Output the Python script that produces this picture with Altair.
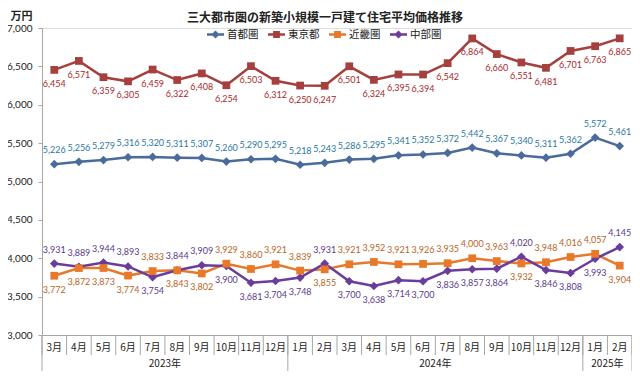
import altair as alt
import pandas as pd

# ---------------- data ----------------
months = ["3月", "4月", "5月", "6月", "7月", "8月", "9月", "10月", "11月", "12月",
          "1月", "2月", "3月", "4月", "5月", "6月", "7月", "8月", "9月", "10月", "11月", "12月",
          "1月", "2月"]
years = ["2023年"] * 10 + ["2024年"] * 12 + ["2025年"] * 2
series = ["首都圏", "東京都", "近畿圏", "中部圏"]

shutoken = [5226, 5256, 5279, 5316, 5320, 5311, 5307, 5260, 5290, 5295,
            5218, 5243, 5286, 5295, 5341, 5352, 5372, 5442, 5367, 5340, 5311, 5362,
            5572, 5461]
tokyo = [6454, 6571, 6359, 6305, 6459, 6322, 6408, 6254, 6503, 6312,
         6250, 6247, 6501, 6324, 6395, 6394, 6542, 6864, 6660, 6551, 6481, 6701,
         6763, 6865]
kinki = [3772, 3872, 3873, 3774, 3833, 3843, 3802, 3929, 3860, 3921,
         3839, 3855, 3921, 3952, 3921, 3926, 3935, 4000, 3963, 3932, 3948, 4016,
         4057, 3904]
chubu = [3931, 3889, 3944, 3893, 3754, 3844, 3909, 3900, 3681, 3704,
         3748, 3931, 3700, 3638, 3714, 3700, 3836, 3857, 3864, 4020, 3846, 3808,
         3993, 4145]
y_ticks = [3000, 3500, 4000, 4500, 5000, 5500, 6000, 6500, 7000]
title_text = "三大都市圏の新築小規模一戸建て住宅平均価格推移"

# ---------------- styles ----------------
line_col = {"首都圏": "#4a6b9b", "東京都": "#a5403f", "近畿圏": "#e8792a", "中部圏": "#6a3d9c"}
label_col = {"首都圏": "#2a78a3", "東京都": "#a8282c", "近畿圏": "#b8651e", "中部圏": "#5a3a8c"}
marker = {"首都圏": "diamond", "東京都": "square", "近畿圏": "square", "中部圏": "diamond"}
legend_path = {
    "diamond": "M-1,-0.14H1V0.14H-1Z M0,-0.48L0.48,0L0,0.48L-0.48,0Z",
    "square": "M-1,-0.14H1V0.14H-1Z M-0.4,-0.4H0.4V0.4H-0.4Z",
}
NUM_FONT = "Lato"
JP_FONT = "Noto Sans CJK JP"
AX_COL = "#a6a6a6"
W, H = 590, 307

# ---------------- tables ----------------
vals = {"首都圏": shutoken, "東京都": tokyo, "近畿圏": kinki, "中部圏": chubu}
rows = []
for s in series:
    for i, v in enumerate(vals[s]):
        if s == "首都圏":
            side = "above"
        elif s == "東京都":
            side = "below"
        else:
            other = chubu[i] if s == "近畿圏" else kinki[i]
            side = "above" if v >= other else "below"
        rows.append({"idx": i, "series": s, "value": v, "side": side,
                     "lc": line_col[s], "tc": label_col[s], "mk": marker[s]})
df = pd.DataFrame(rows)

n = len(months)
month_df = pd.DataFrame({"idx": list(range(n)), "month": months})
sep_df = pd.DataFrame({"idx": [i - 0.5 for i in range(n + 1)]})
year_names = []
for y in years:
    if y not in year_names:
        year_names.append(y)
year_centers, year_bounds = [], [-0.5]
for y in year_names:
    ids = [i for i, yy in enumerate(years) if yy == y]
    year_centers.append((ids[0] + ids[-1]) / 2)
    year_bounds.append(ids[-1] + 0.5)
year_df = pd.DataFrame({"idx": year_centers, "year": year_names})
ysep_df = pd.DataFrame({"idx": year_bounds})
title_df = pd.DataFrame({"t": [title_text]})

# ---------------- encodings ----------------
xenc = alt.X("idx:Q", scale=alt.Scale(domain=[-0.5, n - 0.5], nice=False, zero=False),
             axis=alt.Axis(title=None, labels=False, ticks=False, grid=False,
                           domainColor=AX_COL, domainWidth=1))
yenc = alt.Y("value:Q", scale=alt.Scale(domain=[y_ticks[0], y_ticks[-1]], nice=False, zero=False),
             axis=alt.Axis(values=y_ticks, format=",.0f", grid=False,
                           tickSize=4, tickColor=AX_COL, domainColor=AX_COL, labelPadding=6,
                           labelFont=NUM_FONT, labelFontSize=10, labelColor="#222",
                           title="万円", titleAngle=0, titleAlign="center", titleBaseline="middle",
                           titleX=-21, titleY=-12, titleFont=JP_FONT, titleFontSize=11,
                           titleFontWeight="bold", titleColor="#222"))

base = alt.Chart(df)

lines = base.mark_line(strokeWidth=2.5).encode(
    x=xenc, y=yenc, color=alt.Color("lc:N", scale=None), detail="series:N")

diamonds = base.transform_filter(alt.datum.mk == "diamond").mark_point(
    shape="diamond", filled=True, size=75, opacity=1).encode(
    x=xenc, y=yenc, color=alt.Color("lc:N", scale=None))

squares = base.transform_filter(alt.datum.mk == "square").mark_square(
    size=60, opacity=1).encode(
    x=xenc, y=yenc, color=alt.Color("lc:N", scale=None))

lab_above = base.transform_filter(alt.datum.side == "above").mark_text(
    dy=-14, font=NUM_FONT, fontSize=9, baseline="middle").encode(
    x=xenc, y=yenc, text=alt.Text("value:Q", format=","), color=alt.Color("tc:N", scale=None))

lab_below = base.transform_filter(alt.datum.side == "below").mark_text(
    dy=14, font=NUM_FONT, fontSize=9, baseline="middle").encode(
    x=xenc, y=yenc, text=alt.Text("value:Q", format=","), color=alt.Color("tc:N", scale=None))

leg = alt.Legend(orient="none", legendX=165, legendY=-2, direction="horizontal", columns=4,
                 title=None, symbolSize=289, symbolOpacity=1, symbolStrokeWidth=0,
                 labelFont=JP_FONT, labelFontSize=10.5, labelColor="#222",
                 columnPadding=9, labelOffset=3, padding=0)
legend_layer = base.mark_point(filled=True, opacity=0).encode(
    x=xenc, y=yenc,
    fill=alt.Fill("series:N", scale=alt.Scale(domain=series, range=[line_col[s] for s in series]),
                  legend=leg),
    shape=alt.Shape("series:N", scale=alt.Scale(domain=series,
                                                range=[legend_path[marker[s]] for s in series]),
                    legend=leg))

seps = alt.Chart(sep_df).mark_rule(color=AX_COL, strokeWidth=1).encode(
    x=xenc, y=alt.value(H), y2=alt.value(H + 20))
yseps = alt.Chart(ysep_df).mark_rule(color=AX_COL, strokeWidth=1).encode(
    x=xenc, y=alt.value(H), y2=alt.value(H + 36))
month_text = alt.Chart(month_df).mark_text(font=JP_FONT, fontSize=10, color="#222",
                                           baseline="middle").encode(
    x=xenc, y=alt.value(H + 13), text="month:N")
year_text = alt.Chart(year_df).mark_text(font=JP_FONT, fontSize=10, color="#222",
                                         baseline="middle").encode(
    x=xenc, y=alt.value(H + 29), text="year:N")
title = alt.Chart(title_df).mark_text(font=JP_FONT, fontSize=12, fontWeight="bold",
                                      color="#222", baseline="middle").encode(
    x=alt.value(283), y=alt.value(-10), text="t:N")

chart = alt.layer(
    seps, yseps, month_text, year_text, title,
    lines, diamonds, squares, legend_layer, lab_above, lab_below
).properties(
    width=W, height=H,
    padding={"left": 34, "top": 20, "right": 0, "bottom": 36},
    autosize=alt.AutoSizeParams(type="none"),
).configure_view(stroke=None).configure(background="white")

chart.save("out.html", embed_options={"renderer": "svg", "actions": False})
